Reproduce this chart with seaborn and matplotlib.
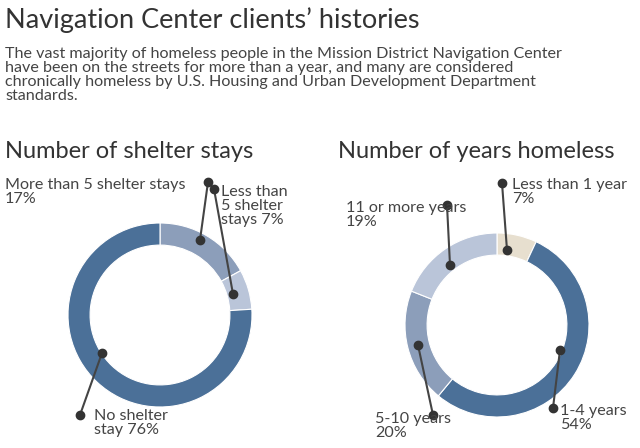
import matplotlib
matplotlib.use("Agg")
import matplotlib.pyplot as plt
import seaborn as sns

sns.set_theme(style="white")
plt.rcParams['font.family'] = ['Lato', 'DejaVu Sans']

shelter_labels = ["More than 5 shelter stays", "Less than 5 shelter stays", "No shelter stay"]
shelter_values = [17, 7, 76]
shelter_colors = ["#8c9eba", "#bac5d9", "#4b7098"]
years_labels = ["Less than 1 year", "1-4 years", "5-10 years", "11 or more years"]
years_values = [7, 54, 20, 19]
years_colors = ["#e7dfcf", "#4b7098", "#8c9eba", "#bac5d9"]

W, H = 640, 448
fig = plt.figure(figsize=(6.4, 4.48), dpi=100)

def donut(cx, cy, r, vals, cols):
    ax = fig.add_axes([(cx - r) / W, (H - cy - r) / H, 2 * r / W, 2 * r / H])
    ax.pie(vals, colors=cols, startangle=90, counterclock=False,
           wedgeprops=dict(width=0.24, edgecolor="white", linewidth=0.8))
    ax.set_xlim(-1, 1); ax.set_ylim(-1, 1)
    ax.set_aspect("equal")
    ax.axis("off")

donut(160, 315, 92, shelter_values, shelter_colors)
donut(497, 325, 92, years_values, years_colors)

ov = fig.add_axes([0, 0, 1, 1], facecolor="none")
ov.set_xlim(0, W); ov.set_ylim(H, 0); ov.axis("off")

fig.text(5 / W, 1 - 20 / H, "Navigation Center clients\u2019 histories", fontsize=19.5,
         color="#333333", va="center")
fig.text(5 / W, 1 - 47 / H,
         "The vast majority of homeless people in the Mission District Navigation Center\n"
         "have been on the streets for more than a year, and many are considered\n"
         "chronically homeless by U.S. Housing and Urban Development Department\n"
         "standards.", fontsize=11.6, color="#444444", va="top", linespacing=1.0)
fig.text(5 / W, 1 - 152 / H, "Number of shelter stays", fontsize=17, color="#333333",
         va="center")
fig.text(338 / W, 1 - 152 / H, "Number of years homeless", fontsize=17, color="#333333",
         va="center")

lines = [((208, 182), (200, 240)), ((214, 189), (233, 294)), ((102, 353), (80, 415)),
         ((447, 205), (450, 265)), ((502, 183), (507, 250)), ((560, 350), (553, 408)),
         ((418, 345), (433, 415))]
for (x1, y1), (x2, y2) in lines:
    ov.plot([x1, x2], [y1, y2], color="#444444", lw=1.5)
    ov.plot([x1, x2], [y1, y2], "o", color="#333333", ms=6)

tkw = dict(fontsize=11.6, color="#444444", linespacing=1.0)
ov.text(5, 192, "More than 5 shelter stays\n17%", va="center", **tkw)
ov.text(221, 206, "Less than\n5 shelter\nstays 7%", va="center", **tkw)
ov.text(94, 423, "No shelter\nstay 76%", va="center", **tkw)
ov.text(346, 215, "11 or more years\n19%", va="center", **tkw)
ov.text(512, 192, "Less than 1 year\n7%", va="center", **tkw)
ov.text(560, 418, "1-4 years\n54%", va="center", **tkw)
ov.text(375, 426, "5-10 years\n20%", va="center", **tkw)

fig.savefig("out.png", dpi=100)
